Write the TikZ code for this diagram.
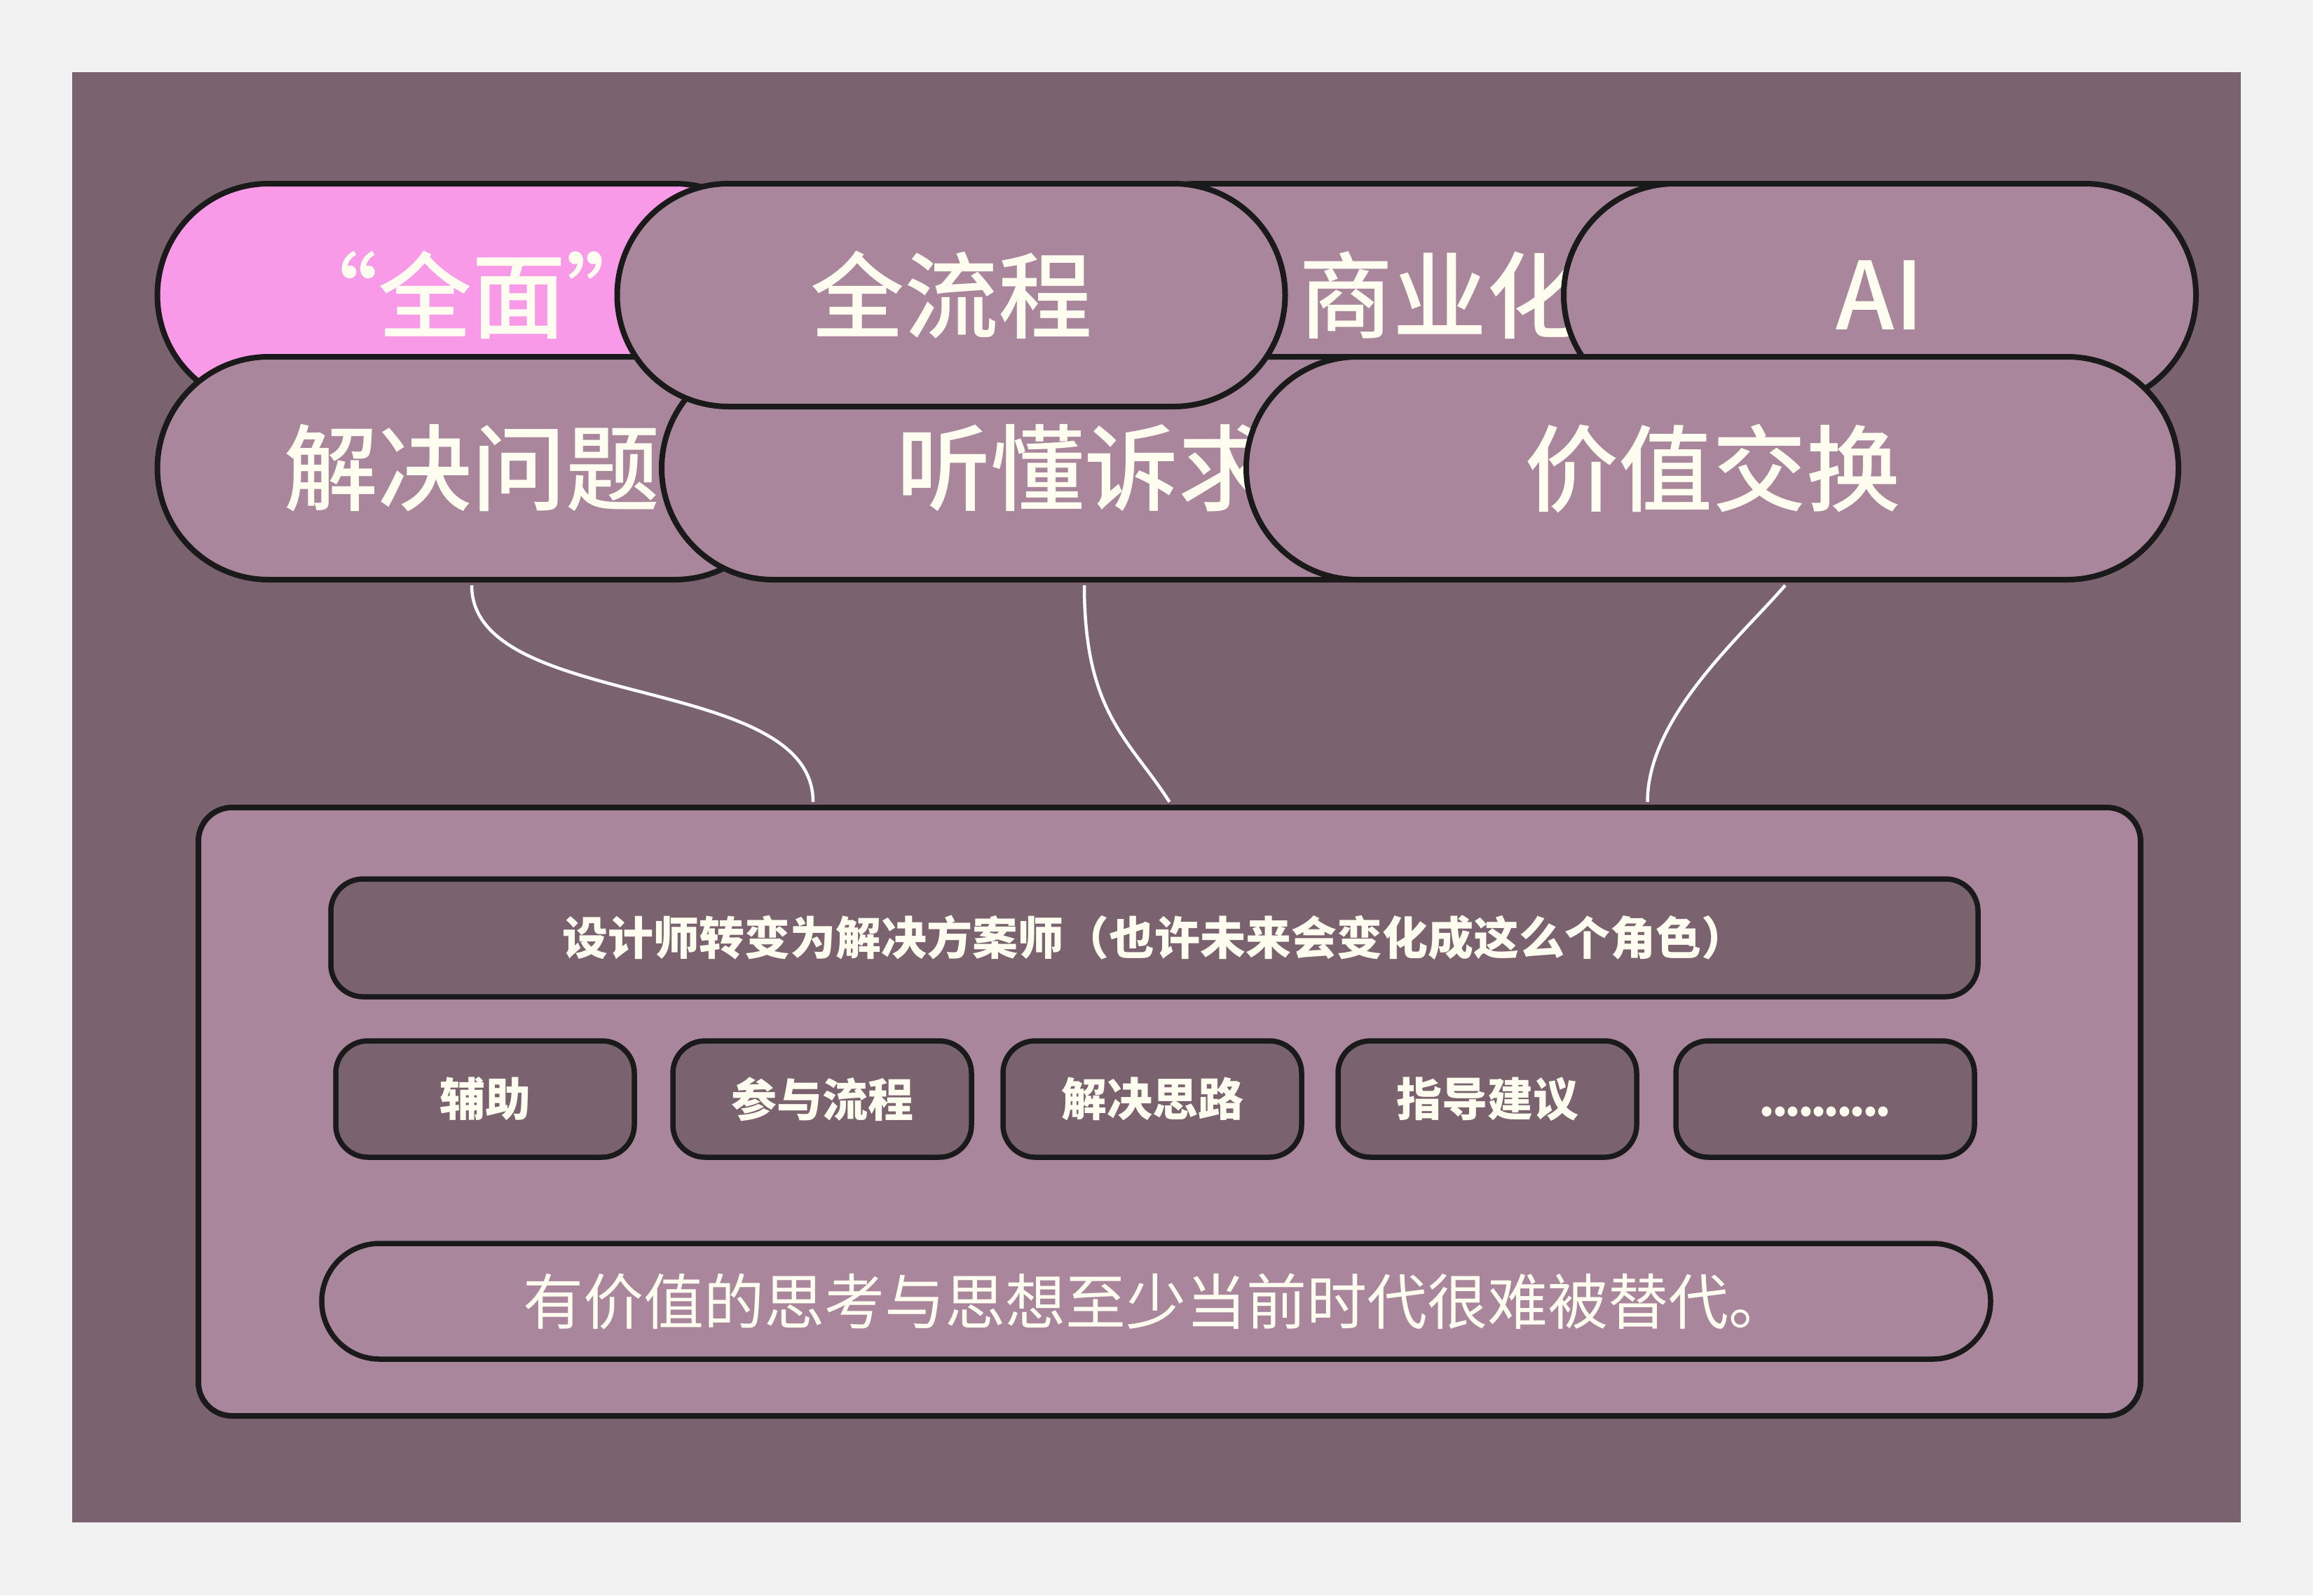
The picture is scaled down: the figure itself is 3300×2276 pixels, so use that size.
\documentclass[tikz,border=0pt]{standalone}
\usepackage{fontspec}
\setmainfont{Noto Sans CJK SC}
\newfontfamily\medfont{Noto Sans CJK SC Medium}
\usetikzlibrary{shapes.misc,calc}
\definecolor{bggray}{HTML}{F2F2F2}
\definecolor{darkm}{HTML}{7A636F}
\definecolor{mauve}{HTML}{A9869B}
\definecolor{pinkf}{HTML}{F89AE7}
\definecolor{edgec}{HTML}{1A1A1A}
\definecolor{cream}{HTML}{FFFCF0}
\newcommand{\tdot}{.\kern-4.4pt}
\begin{document}
\begin{tikzpicture}[x=1pt,y=-1pt,
  pill/.style={rounded rectangle, draw=edgec, line width=8pt, fill=mauve,
    minimum height=318pt, inner sep=0pt, text=cream,
    font=\medfont\fontsize{134}{140}\selectfont},
  boxnode/.style={rectangle, rounded corners=46pt, draw=edgec, line width=7.5pt,
    fill=darkm, inner sep=0pt, text=cream,
    font=\fontsize{65}{70}\selectfont\bfseries},
  smallbox/.style={boxnode, minimum width=426pt, minimum height=166pt},
  link/.style={white, line width=4.5pt}]
\useasboundingbox (0,0) rectangle (3300,2276);
\fill[bggray] (0,0) rectangle (3300,2276);
\fill[darkm] (103,103) rectangle (3197,2172);

% top pills, in stacking order
\node[pill, fill=pinkf, minimum width=897pt] (qm) at (673,421) {“全面”};
\node[pill, minimum width=1009pt] (syh) at (2054,421) {商业化};
\node[pill, minimum width=897pt] (jjwt) at (673,668) {解决问题};
\node[pill, minimum width=1206pt] (tdsq) at (1547,668) {听懂诉求};
\node[pill, minimum width=953pt] (qlc) at (1357,421) {全流程};
\node[pill, minimum width=902pt] (ai) at (2682,421) {AI};
\node[pill, minimum width=1330pt] (jzjh) at (2443,668) {价值交换};

% main box
\node[rectangle, rounded corners=48pt, draw=edgec, line width=8pt, fill=mauve,
  minimum width=2771pt, minimum height=868pt] (main) at (1668.5,1586) {};

\node[boxnode, minimum width=2350pt, minimum height=168pt] (head) at (1647,1338)
  {设计师转变为解决方案师（也许未来会变化成这么个角色）};

\node[smallbox] (b1) at (692,1568) {辅助};
\node[smallbox] (b2) at (1173,1568) {参与流程};
\node[smallbox] (b3) at (1644,1568) {解决思路};
\node[smallbox] (b4) at (2122,1568) {指导建议};
\node[smallbox] (b5) at (2604,1568)
  {\vphantom{辅助}\tdot\tdot\tdot\tdot\tdot\tdot\tdot\tdot\tdot.};

\node[rounded rectangle, draw=edgec, line width=7.5pt, fill=mauve, inner sep=0pt,
  minimum width=2381pt, minimum height=165pt, text=cream,
  font=\fontsize{86}{90}\selectfont] (bottom) at (1649.5,1856.5)
  {有价值的思考与思想至少当前时代很难被替代。};

% connectors
\draw[link] ([yshift=-4pt]jjwt.south) .. controls +(0,180) and +(0,-185) ..
  ([xshift=-508.5pt,yshift=4pt]main.north);
\draw[link] ([yshift=-4pt]tdsq.south) .. controls +(0,183) and +(-57,-89) ..
  ([yshift=4pt]main.north);
\draw[link] ([xshift=104pt,yshift=-4pt]jzjh.south) .. controls +(-64,74) and +(0,-121) ..
  ([xshift=682pt,yshift=4pt]main.north);
\end{tikzpicture}
\end{document}
